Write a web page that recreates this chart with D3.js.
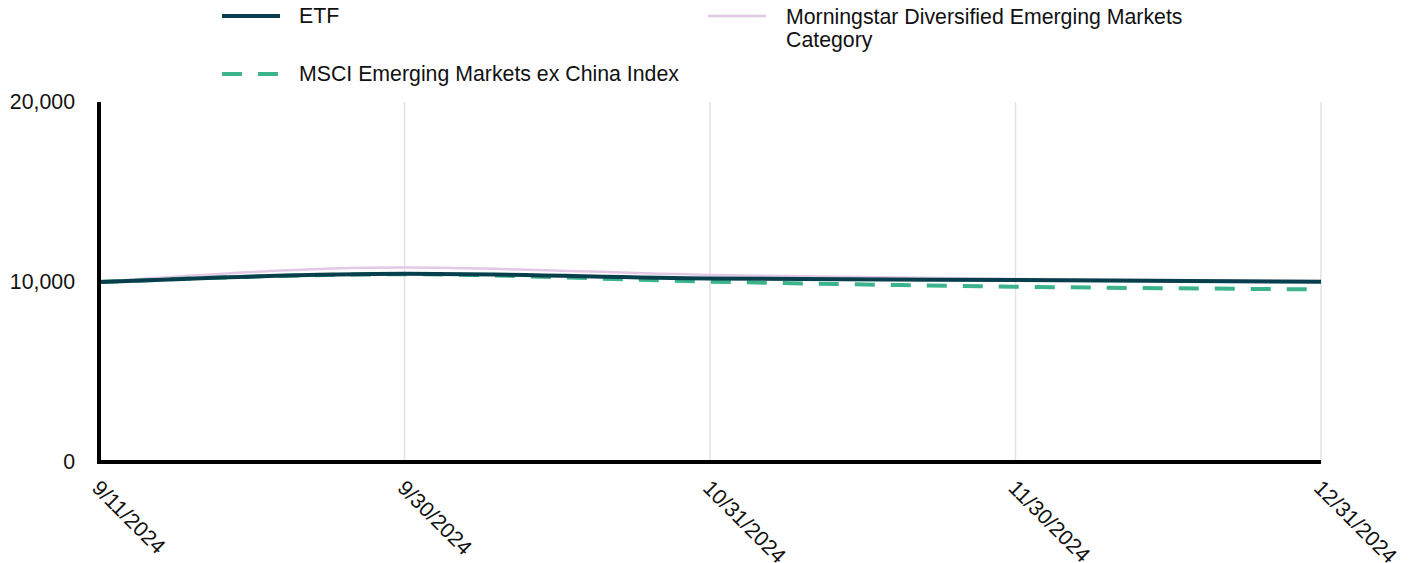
<!DOCTYPE html>
<html><head><meta charset="utf-8">
<script src="https://cdn.jsdelivr.net/npm/d3@7"></script>
<style>body{margin:0;background:#fff;font-family:"Liberation Sans",Arial,sans-serif;}</style>
</head><body><svg id="c" width="1413" height="563"></svg>
<script>
const categories = ["9/11/2024","9/30/2024","10/31/2024","11/30/2024","12/31/2024"];
const etfValues = [10000, 10460, 10200, 10110, 10010];
const msciValues = [10000, 10430, 10020, 9740, 9590];
const morningstarValues = [10000, 10800, 10390, 10160, 10050];
const yTicks = [0, 10000, 20000];
const seriesNames = ["ETF","Morningstar Diversified Emerging Markets Category","MSCI Emerging Markets ex China Index"];

const svg = d3.select("#c");
const pLeft = 99, pRight = 1321, pTop = 102, pBottom = 462;
const x = d3.scalePoint().domain(categories).range([pLeft, pRight]);
const y = d3.scaleLinear().domain([0, 20000]).range([pBottom, pTop]);
const fs = 21.3;

// gridlines
svg.append("g").selectAll("line").data(categories).join("line")
  .attr("x1", d => x(d)).attr("x2", d => x(d)).attr("y1", pTop).attr("y2", pBottom)
  .attr("stroke", "#e2e2e2").attr("stroke-width", 1.5);

// y labels
svg.append("g").selectAll("text").data(yTicks).join("text")
  .attr("x", 75).attr("y", d => y(d)).attr("dy", "0.35em")
  .attr("text-anchor", "end").attr("font-size", fs).attr("fill", "#111")
  .text(d => d3.format(",")(d));

// x labels
svg.append("g").selectAll("text").data(categories).join("text")
  .attr("transform", d => `translate(${x(d) - 3},${484}) rotate(45)`)
  .attr("dy", "0.35em").attr("font-size", fs).attr("fill", "#111")
  .text(d => d);

const line = d3.line().x((d, i) => x(categories[i])).y(d => y(d)).curve(d3.curveMonotoneX);

svg.append("path").datum(morningstarValues).attr("d", line)
  .attr("fill", "none").attr("stroke", "#e2c8e6").attr("stroke-width", 2.5);
svg.append("path").datum(msciValues).attr("d", line)
  .attr("fill", "none").attr("stroke", "#3bb48e").attr("stroke-width", 4).attr("stroke-dasharray", "20,16");
svg.append("path").datum(etfValues).attr("d", line)
  .attr("fill", "none").attr("stroke", "#073f4c").attr("stroke-width", 4);

// axes lines
svg.append("line").attr("x1", pLeft).attr("x2", pLeft).attr("y1", pTop).attr("y2", pBottom + 2)
  .attr("stroke", "#000").attr("stroke-width", 4);
svg.append("line").attr("x1", pLeft - 2).attr("x2", pRight).attr("y1", pBottom).attr("y2", pBottom)
  .attr("stroke", "#000").attr("stroke-width", 4);

// legend
const lg = svg.append("g");
const legendItems = [
  {name: seriesNames[0], x: 222, y: 16, color: "#073f4c", w: 4, dash: null},
  {name: seriesNames[1], x: 708, y: 16, color: "#e2c8e6", w: 2.5, dash: null},
  {name: seriesNames[2], x: 222, y: 74, color: "#3bb48e", w: 4, dash: "20,16"}
];
legendItems.forEach(it => {
  lg.append("line").attr("x1", it.x).attr("x2", it.x + 58).attr("y1", it.y).attr("y2", it.y)
    .attr("stroke", it.color).attr("stroke-width", it.w).attr("stroke-dasharray", it.dash);
  const t = lg.append("text").attr("x", it.x + 77).attr("y", it.y).attr("dy", "0.35em")
    .attr("font-size", fs).attr("fill", "#111");
  if (it.name.startsWith("Morningstar")) {
    t.attr("dy", null).attr("y", it.y + 8);
    t.append("tspan").attr("x", it.x + 78).text("Morningstar Diversified Emerging Markets");
    t.append("tspan").attr("x", it.x + 78).attr("dy", "1.08em").text("Category");
  } else t.text(it.name);
});
</script></body></html>
